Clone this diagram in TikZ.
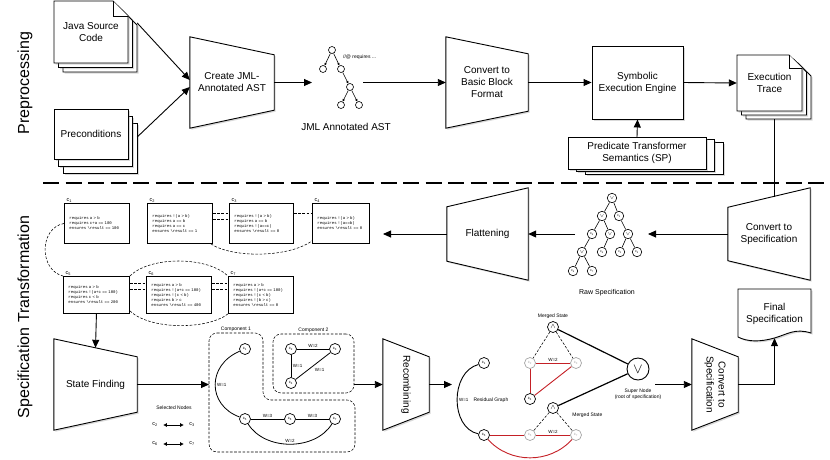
\documentclass[tikz,border=0pt]{standalone}
\usepackage{fontspec}
\usepackage{graphicx}
\setmainfont{Liberation Sans}
\setmonofont{Liberation Mono}
\usetikzlibrary{arrows.meta, positioning, calc, shadows, backgrounds}
\definecolor{edgered}{RGB}{196, 32, 38}
\definecolor{fadegray}{RGB}{165, 165, 165}

\begin{document}
\begin{tikzpicture}[
  x=1pt, y=-1pt,
  lbl/.style={font=\fontsize{10}{12}\selectfont, align=center, inner sep=0pt},
  midlbl/.style={font=\fontsize{7}{8}\selectfont, inner sep=1pt},
  smalllbl/.style={font=\fontsize{5}{6}\selectfont, align=center, inner sep=1pt},
  sidelbl/.style={font=\fontsize{16}{18}\selectfont, rotate=90},
  softshadow/.style={drop shadow={shadow xshift=1.5pt, shadow yshift=-1.5pt, opacity=0.3}},
  trap/.style={draw, line width=0.9pt, fill=white, softshadow},
  page/.style={draw, line width=0.8pt, fill=white},
  arrow/.style={-{Triangle[length=8pt,width=7pt]}, line width=0.9pt},
  tinyarrow/.style={-{Triangle[length=2.5pt,width=2.2pt]}, line width=0.6pt},
  pairarrow/.style={{Triangle[length=3.5pt,width=3.5pt]}-{Triangle[length=3.5pt,width=3.5pt]}, line width=0.8pt, shorten <=5pt, shorten >=5pt},
  specbox/.style={draw, line width=0.9pt, fill=white, anchor=north west, align=left, inner xsep=5pt, inner ysep=0pt, font=\fontsize{4}{5}\selectfont\ttfamily},
  clbl/.style={font=\fontsize{5.5}{6}\selectfont, inner sep=0.5pt},
  simline/.style={dash pattern=on 2.6pt off 1.6pt, line width=0.55pt},
  region/.style={draw, dash pattern=on 2.6pt off 1.6pt, line width=0.55pt, rounded corners=8pt},
  tnode/.style={circle, draw, fill=white, line width=0.6pt, inner sep=0pt, minimum size=9.5pt, font=\fontsize{3.5}{4}\selectfont},
  gnode/.style={circle, draw, fill=white, line width=0.7pt, inner sep=0pt, minimum size=11pt, font=\fontsize{4}{4}\selectfont},
  fadenode/.style={gnode, draw=fadegray, text=fadegray},
  wlbl/.style={font=\fontsize{4.5}{5}\selectfont, inner sep=1.5pt},
  gedge/.style={line width=0.8pt},
  rededge/.style={draw=edgered, line width=0.9pt},
  boldedge/.style={line width=1.2pt}
]
  \useasboundingbox (0,0) rectangle (830,459);

  % Preprocessing
  \node[sidelbl] (pre) at (25,83) {Preprocessing};

  \foreach \d in {9,4.5,0}
    \draw[page, softshadow] (54+\d,1+\d) -- (113+\d,1+\d) -- (128+\d,16+\d) -- (128+\d,63+\d) -- (54+\d,63+\d) -- cycle;
  \draw[page] (113,1) -- (113,16) -- (128,16);
  \node[lbl, minimum width=74pt, minimum height=62pt] (java) at (91,32) {Java Source\\Code};

  \foreach \d/\e in {9/14,4.5/7,0/0}
    \draw[page, softshadow] (54+\d,109+\e) rectangle (128+\d,159+\e);
  \node[lbl, minimum width=74pt, minimum height=50pt] (prec) at (91,134) {Preconditions};

  \node[lbl, minimum width=84pt, minimum height=91pt] (jml) at (232,82.5) {Create JML-\\Annotated AST};

  % AST
  \node[tnode, minimum size=7pt] (a1) at (332,50) {};
  \node[tnode, minimum size=7pt] (a2) at (323,69) {};
  \node[tnode, minimum size=7pt] (a3) at (341,69) {};
  \node[tnode, minimum size=7pt] (a4) at (350,87) {};
  \node[tnode, minimum size=7pt] (a5) at (341,105) {};
  \node[tnode, minimum size=7pt] (a6) at (359,105) {};
  \draw[tinyarrow] (a1) -- (a2);
  \draw[tinyarrow] (a1) -- (a3);
  \draw[tinyarrow] (a3) -- (a4);
  \draw[tinyarrow] (a4) -- (a5);
  \draw[tinyarrow] (a4) -- (a6);
  \node[font=\fontsize{5}{5}\selectfont, anchor=west, inner sep=0pt] (anote) at (343,57) {//@ requires ...};
  \node[lbl] (astlbl) at (346,127) {JML Annotated AST};
  \coordinate (astin) at (312,82.5);
  \coordinate (astout) at (363,82.5);

  \node[lbl, minimum width=82pt, minimum height=91pt] (bb) at (487,82.5) {Convert to\\Basic Block\\Format};
  \node[lbl, draw, fill=white, line width=0.9pt, softshadow, minimum width=91pt, minimum height=73pt] (see) at (637.5,82.5) {Symbolic\\Execution Engine};

  \foreach \d/\e in {9/8,4.5/4,0/0}
    \draw[page, softshadow] (737+\d,55+\e) -- (789+\d,55+\e) -- (802+\d,68+\e) -- (802+\d,111+\e) -- (737+\d,111+\e) -- cycle;
  \draw[page] (789,55) -- (789,68) -- (802,68);
  \node[lbl, minimum width=65pt, minimum height=56pt] (trace) at (769.5,83) {Execution\\Trace};

  \foreach \d/\e in {17/5.5,8.5/2.7,0/0}
    \draw[page, softshadow] (568+\d,137+\e) rectangle (706+\d,169+\e);
  \node[lbl, minimum width=138pt, minimum height=32pt] (pts) at (637,153) {Predicate Transformer\\Semantics (SP)};

  \draw[arrow] ([xshift=9pt,yshift=9pt]java.east) -- ([yshift=2.5pt]jml.west);
  \draw[arrow] ([xshift=9pt,yshift=-3pt]prec.east) -- ([yshift=-4.5pt]jml.west);
  \draw[arrow] (jml.east) -- (astin);
  \draw[arrow] (astout) -- (bb.west);
  \draw[arrow] (bb.east) -- (see.west);
  \draw[arrow] (see.east) -- (trace.west);
  \draw[arrow] (pts.north) -- (see.south);

  % separator
  \draw[line width=2.6pt, dash pattern=on 16pt off 6.5pt] (43,183) -- (830,183);

  % Specification transformation
  \node[sidelbl] (spt) at (25,317) {Specification Transformation};

  \node[lbl, minimum width=82pt, minimum height=92pt] (cvt) at (769,234) {Convert to\\Specification};
  \coordinate (cvttop) at (774,196.6);
  \draw[line width=0.9pt] ([xshift=4.5pt,yshift=-8pt]trace.south) -- (cvttop);

  % raw specification tree
  \node[tnode] (o1) at (612,198) {$\vee$};
  \node[tnode] (o2) at (602,216) {$\vee$};
  \node[tnode] (t1) at (619,216) {c\textsubscript{1}};
  \node[tnode] (t5) at (592,234) {c\textsubscript{5}};
  \node[tnode] (o3) at (610,234) {$\vee$};
  \node[tnode] (o4) at (628,234) {$\vee$};
  \node[tnode] (o5) at (582,252) {$\vee$};
  \node[tnode] (t4) at (602,252) {c\textsubscript{4}};
  \node[tnode] (t2) at (620,252) {c\textsubscript{2}};
  \node[tnode] (t3) at (637,252) {c\textsubscript{3}};
  \node[tnode] (t6) at (573,271) {c\textsubscript{6}};
  \node[tnode] (t7) at (592,271) {c\textsubscript{7}};
  \draw[line width=0.6pt] (o1) -- (o2);
  \draw[line width=0.6pt] (o1) -- (t1);
  \draw[line width=0.6pt] (o2) -- (t5);
  \draw[line width=0.6pt] (o2) -- (o3);
  \draw[line width=0.6pt] (t1) -- (o4);
  \draw[line width=0.6pt] (t5) -- (o5);
  \draw[line width=0.6pt] (o3) -- (t4);
  \draw[line width=0.6pt] (o4) -- (t2);
  \draw[line width=0.6pt] (o4) -- (t3);
  \draw[line width=0.6pt] (o5) -- (t6);
  \draw[line width=0.6pt] (o5) -- (t7);
  \node[midlbl] (rawlbl) at (607,293) {Raw Specification};
  \coordinate (treeR) at (648,234);
  \coordinate (treeL) at (575,234);

  \node[lbl, minimum width=81pt, minimum height=92pt] (flat) at (487.5,234) {Flattening};
  \coordinate (flatout) at (383,234);
  \draw[arrow] (cvt.west) -- (treeR);
  \draw[arrow] (treeL) -- (flat.east);
  \draw[arrow] (flat.west) -- (flatout);

  % specification cases
  \node[specbox, text width=55pt, minimum height=40pt] (s1) at (64,203) {requires a > b\\requires c+a == 100\\ensures \textbackslash result == 100};
  \node[specbox, text width=55pt, minimum height=40pt] (s2) at (147,203) {requires !(a > b)\\requires a == b\\requires a == c\\ensures \textbackslash result == 1};
  \node[specbox, text width=54pt, minimum height=40pt] (s3) at (229,203) {requires !(a > b)\\requires a == b\\requires !(a==c)\\ensures \textbackslash result == 0};
  \node[specbox, text width=47pt, minimum height=40pt] (s4) at (312,203) {requires !(a > b)\\requires !(a==b)\\ensures \textbackslash result == 0};
  \node[specbox, text width=56pt, minimum height=37pt] (s5) at (63,276) {requires a > b\\requires !(a+c == 100)\\requires c < b\\ensures \textbackslash result == 200};
  \node[specbox, text width=55pt, minimum height=37pt] (s6) at (146,276) {requires a > b\\requires !(a+c == 100)\\requires !(c < b)\\requires b > c\\ensures \textbackslash result == 400};
  \node[specbox, text width=55pt, minimum height=37pt] (s7) at (228,276) {requires a > b\\requires !(a+c == 100)\\requires !(c < b)\\requires !(b > c)\\ensures \textbackslash result == 0};
  \node[clbl, above right=0pt and 2pt of s1.north west] (l1) {c\textsubscript{1}};
  \node[clbl, above right=0pt and 2pt of s2.north west] (l2) {c\textsubscript{2}};
  \node[clbl, above right=0pt and 2pt of s3.north west] (l3) {c\textsubscript{3}};
  \node[clbl, above right=0pt and 2pt of s4.north west] (l4) {c\textsubscript{4}};
  \node[clbl, above right=0pt and 2pt of s5.north west] (l5) {c\textsubscript{5}};
  \node[clbl, above right=0pt and 2pt of s6.north west] (l6) {c\textsubscript{6}};
  \node[clbl, above right=0pt and 2pt of s7.north west] (l7) {c\textsubscript{7}};

  \draw[simline] ([yshift=10pt]s2.east) -- ([yshift=10pt]s3.west);
  \draw[simline] ([yshift=4pt]s2.east) -- ([yshift=4pt]s3.west);
  \draw[simline] ([yshift=10pt]s3.east) -- ([yshift=10pt]s4.west);
  \draw[simline] ([yshift=11.5pt]s5.east) -- ([yshift=11.5pt]s6.west);
  \draw[simline] ([yshift=5.5pt]s5.east) -- ([yshift=5.5pt]s6.west);
  \draw[simline] ([yshift=11.5pt]s6.east) -- ([yshift=11.5pt]s7.west);
  \draw[simline] ([yshift=5.5pt]s6.east) -- ([yshift=5.5pt]s7.west);
  \draw[simline] ([xshift=-2pt]s2.south east) .. controls (232,258) and (288,258) .. ([yshift=3pt]s4.south west);
  \draw[simline] (s1.west) .. controls (39,228) and (39,270) .. (s5.north west);
  \draw[simline] (s5.north east) .. controls (150,256) and (207,256) .. (s7.north west);
  \draw[simline] ([yshift=3pt]s5.south east) .. controls (150,330) and (207,330) .. (s7.south west);

  % state finding
  \node[lbl, minimum width=83pt, minimum height=91pt] (sf) at (95.5,384.5) {State Finding};
  \coordinate (comp1in) at (209,384.5);
  \draw[arrow] (s5.south) -- ([yshift=-9pt]sf.north);
  \draw[arrow] (sf.east) -- (comp1in);

  \node[smalllbl] (selhd) at (174,408) {Selected Nodes};
  \node[clbl] (sel2) at (155,425) {c\textsubscript{2}};
  \node[clbl] (sel3) at (192,425) {c\textsubscript{3}};
  \node[clbl] (sel6) at (155,444) {c\textsubscript{6}};
  \node[clbl] (sel7) at (192,444) {c\textsubscript{7}};
  \draw[pairarrow] (sel2) -- (sel3);
  \draw[pairarrow] (sel6) -- (sel7);

  % components
  \draw[region] (209,333) -- (263,333) -- (263,400) -- (355,400) -- (355,452) -- (209,452) -- cycle;
  \node[smalllbl] (c1lbl) at (236,329) {Component 1};
  \node[region, minimum width=81pt, minimum height=59pt] (comp2) at (313.5,363.5) {};
  \node[smalllbl, above=0pt of comp2.north] (c2lbl) {Component 2};

  \node[gnode] (g1) at (245,349) {c\textsubscript{1}};
  \node[gnode] (g2) at (291,349) {c\textsubscript{2}};
  \node[gnode] (g3) at (335,349) {c\textsubscript{3}};
  \node[gnode] (g4) at (291,383) {c\textsubscript{4}};
  \node[gnode] (g5) at (245,419) {c\textsubscript{5}};
  \node[gnode] (g6) at (290,419) {c\textsubscript{6}};
  \node[gnode] (g7) at (335,419) {c\textsubscript{7}};
  \draw[gedge] (g2) -- node[above, wlbl] {W=2} (g3);
  \draw[gedge] (g2) -- node[right, wlbl] {W=1} (g4);
  \draw[gedge] (g3) -- node[below right, wlbl] {W=1} (g4);
  \draw[gedge] (g1) .. controls (207,365) and (207,405) .. node[right, wlbl] {W=1} (g5);
  \draw[gedge] (g5) -- node[above, wlbl] {W=3} (g6);
  \draw[gedge] (g6) -- node[above, wlbl] {W=3} (g7);
  \draw[gedge] (g5) .. controls (265,451) and (315,451) .. node[above, wlbl] {W=2} (g7);

  % recombining
  \node[lbl, minimum width=46pt, minimum height=91pt] (rec) at (406,384.5) {\rotatebox{-90}{Recombining}};
  \coordinate (resin) at (452,384.5);
  \draw[arrow] (comp2.east |- rec.west) -- (rec.west);
  \draw[arrow] (rec.east) -- (resin);

  % residual graph
  \node[gnode] (r1) at (484,363) {c\textsubscript{1}};
  \node[fadenode] (r2) at (530,363) {c\textsubscript{2}};
  \node[fadenode] (r3) at (576,363) {c\textsubscript{3}};
  \node[gnode] (r4) at (530,399) {c\textsubscript{4}};
  \node[gnode] (r5) at (484,435) {c\textsubscript{5}};
  \node[fadenode] (r6) at (530,435) {c\textsubscript{6}};
  \node[fadenode] (r7) at (576,435) {c\textsubscript{7}};
  \node[gnode, font=\fontsize{7}{7}\selectfont] (m1) at (553,327) {$\wedge$};
  \node[gnode, font=\fontsize{7}{7}\selectfont] (m2) at (553,408) {$\wedge$};
  \node[gnode, minimum size=22pt, line width=0.9pt, font=\fontsize{14}{14}\selectfont] (sup) at (638,369) {$\vee$};
  \node[smalllbl, above=1pt of m1] (ms1) {Merged State};
  \node[smalllbl, below right=0pt and 14pt of m2] (ms2) {Merged State};
  \node[smalllbl, below=7pt of sup] (suplbl) {Super Node\\(root of specification)};

  \draw[simline] (m1) -- (r2);
  \draw[simline] (m1) -- (r3);
  \draw[simline] (m2) -- (r6);
  \draw[simline] (m2) -- (r7);
  \draw[boldedge] (m1) -- (sup);
  \draw[boldedge] (m2) -- (sup);
  \draw[rededge] (r2) -- node[above, wlbl, text=black] {W=2} (r3);
  \draw[rededge] (r2) -- (r4);
  \draw[rededge] (r3) -- (r4);
  \draw[rededge] (r5) -- (r6);
  \draw[rededge] (r6) -- node[above, wlbl, text=black] {W=2} (r7);
  \draw[rededge] (r5) .. controls (510,464) and (550,464) .. (r7);
  \draw[line width=0.9pt] (r1) .. controls (450,372) and (450,428) .. node[right, wlbl] (w15) {W=1} (r5);
  \node[smalllbl, right=2pt of w15] (resid) {Residual Graph};

  % final conversion
  \node[lbl, minimum width=46pt, minimum height=91pt] (cvt2) at (715,384.5) {\rotatebox{-90}{\begin{tabular}{@{}c@{}}Convert to\\Specification\end{tabular}}};
  \draw[page, softshadow, line width=0.9pt] (738,289) -- (811,289) -- (811,333) .. controls (795,328) and (788,334) .. (774.5,338) .. controls (760,342) and (748,342) .. (738,337) -- cycle;
  \node[lbl, minimum width=73pt, minimum height=49pt] (fin) at (774.5,313.5) {Final\\Specification};
  \draw[arrow] ($(sup.east)+(6,15.5)$) -- (cvt2.west);
  \draw[arrow] (cvt2.east) -| (fin.south);

  % operation shapes
  \begin{scope}[on background layer]
    \draw[trap] (jml.north west) -- ([yshift=-18pt]jml.north east) -- ([yshift=18pt]jml.south east) -- (jml.south west) -- cycle;
    \draw[trap] (bb.north west) -- ([yshift=-17pt]bb.north east) -- ([yshift=17pt]bb.south east) -- (bb.south west) -- cycle;
    \draw[trap] ([yshift=-19.5pt]cvt.north west) -- (cvt.north east) -- (cvt.south east) -- ([yshift=19.5pt]cvt.south west) -- cycle;
    \draw[trap] ([yshift=-19pt]flat.north west) -- (flat.north east) -- (flat.south east) -- ([yshift=19pt]flat.south west) -- cycle;
    \draw[trap] (sf.north west) -- ([yshift=-18pt]sf.north east) -- ([yshift=18pt]sf.south east) -- (sf.south west) -- cycle;
    \draw[trap] (rec.north west) -- ([yshift=-18pt]rec.north east) -- ([yshift=18pt]rec.south east) -- (rec.south west) -- cycle;
    \draw[trap] (cvt2.north west) -- ([yshift=-18pt]cvt2.north east) -- ([yshift=18pt]cvt2.south east) -- (cvt2.south west) -- cycle;
  \end{scope}
\end{tikzpicture}
\end{document}
